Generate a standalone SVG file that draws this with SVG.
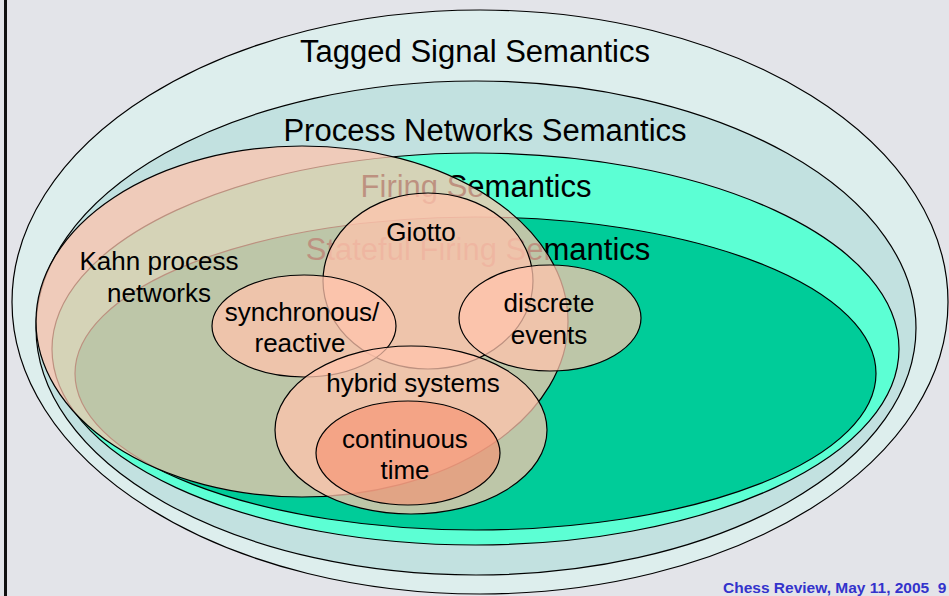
<svg xmlns="http://www.w3.org/2000/svg" width="949" height="596" viewBox="0 0 949 596">
<style>
.bg{fill:#E3E4E9}
.ring{stroke:#000;stroke-width:1.2}
.pink{fill:#FFC3AD;fill-opacity:0.74;stroke:#000;stroke-width:1.2}
.ct{fill:#F7906F;fill-opacity:0.62;stroke:#000;stroke-width:1.2}
.title{font-family:"Liberation Sans",Arial,sans-serif;font-size:31px;fill:#000;text-anchor:middle}
.lbl{font-family:"Liberation Sans",Arial,sans-serif;font-size:26px;fill:#000;text-anchor:middle}
.foot{font-family:"Liberation Sans",Arial,sans-serif;font-size:15.5px;font-weight:bold;fill:#3333CC}
</style>
<rect class="bg" x="0" y="0" width="949" height="596"/>
<rect x="4" y="0" width="3" height="596" fill="#111"/>

<g id="tagged-signal">
<ellipse class="ring" cx="480" cy="302" rx="468" ry="292" fill="#DDEEED"/>
<text class="title" x="475" y="62">Tagged Signal Semantics</text>
</g>
<g id="process-networks">
<ellipse class="ring" cx="476" cy="328" rx="440" ry="247" fill="#C2E1E0"/>
<text class="title" x="485" y="141">Process Networks Semantics</text>
</g>
<g id="firing">
<ellipse class="ring" cx="475.5" cy="349" rx="423.5" ry="196" fill="#5CFFD4"/>
<text class="title" x="476" y="197">Firing Semantics</text>
</g>
<g id="stateful-firing">
<ellipse class="ring" cx="475.5" cy="373.5" rx="400.5" ry="156.5" fill="#00CC99"/>
<text class="title" x="478" y="260">Stateful Firing Semantics</text>
</g>

<g id="kahn">
<ellipse class="pink" cx="302" cy="321.5" rx="266" ry="175.5"/>
<text class="lbl" x="159" y="270">Kahn process</text>
<text class="lbl" x="159" y="302">networks</text>
</g>
<g id="giotto">
<ellipse class="pink" cx="428" cy="281" rx="105" ry="88"/>
<text class="lbl" x="421" y="241">Giotto</text>
</g>
<g id="synchronous-reactive">
<ellipse class="pink" cx="304" cy="326" rx="92" ry="51"/>
<text class="lbl" x="302" y="321">synchronous/</text>
<text class="lbl" x="300" y="352">reactive</text>
</g>
<g id="discrete-events">
<ellipse class="pink" cx="550" cy="318" rx="91" ry="53"/>
<text class="lbl" x="549" y="312">discrete</text>
<text class="lbl" x="549" y="344">events</text>
</g>
<g id="hybrid-systems">
<ellipse class="pink" cx="411" cy="430" rx="136" ry="84"/>
<text class="lbl" x="413" y="392">hybrid systems</text>
</g>
<g id="continuous-time">
<ellipse class="ct" cx="408" cy="453" rx="92" ry="52"/>
<text class="lbl" x="405" y="448">continuous</text>
<text class="lbl" x="405" y="479">time</text>
</g>
<g id="connectors"/>
<text class="foot" x="723" y="593" xml:space="preserve">Chess Review, May 11, 2005  9</text>
</svg>
